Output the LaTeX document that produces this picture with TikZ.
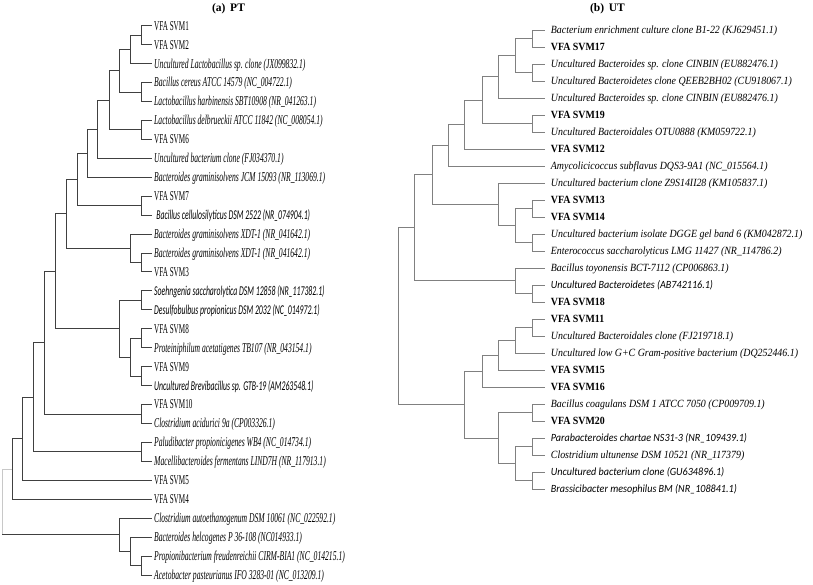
\documentclass[tikz,border=0pt]{standalone}
\usepackage{fontspec}
\setmainfont{Liberation Serif}
\newfontfamily\serAi[FakeStretch=0.565]{Liberation Serif}
\newfontfamily\serAr[FakeStretch=0.53]{Liberation Serif}
\newfontfamily\sanA[FakeStretch=0.575]{Carlito}
\newfontfamily\serB[FakeStretch=0.9]{Liberation Serif}
\newfontfamily\sanB[FakeStretch=0.92]{Carlito}
\definecolor{lineAcol}{HTML}{404040}
\definecolor{lineBcol}{HTML}{808080}
\definecolor{rootcol}{HTML}{C8C8C8}
\tikzset{
  lineA/.style={draw=lineAcol, line width=0.9pt},
  lineB/.style={draw=lineBcol, line width=0.9pt},
  rootline/.style={draw=rootcol, line width=0.9pt},
  leafbase/.style={anchor=west, inner sep=0pt, text depth=0pt},
  leafAi/.style={leafbase, text height=8.9pt, font={\serAi\itshape\fontsize{13.5}{15}\selectfont}},
  leafAr/.style={leafbase, text height=8.9pt, font={\serAr\fontsize{13.5}{15}\selectfont}},
  leafAs/.style={leafbase, text height=8.9pt, font={\sanA\itshape\fontsize{13.5}{15}\selectfont}},
  leafBi/.style={leafbase, text height=7.3pt, font={\serB\itshape\fontsize{11}{13}\selectfont}},
  leafBb/.style={leafbase, text height=7.3pt, font={\serB\bfseries\fontsize{11}{13}\selectfont}},
  leafBs/.style={leafbase, text height=7.3pt, font={\sanB\itshape\fontsize{11}{13}\selectfont}},
  paneltitle/.style={inner sep=0pt, font={\bfseries\fontsize{11.5}{13}\selectfont}}
}
\newcommand\lfA[4]{\coordinate (tA#1) at (151.7,#2);\node[#3] (lA#1) at (154,#2) {#4};}
\newcommand\lfB[4]{\coordinate (tB#1) at (545,#2);\node[#3] (lB#1) at (550.7,#2) {#4};}
\begin{document}
\begin{tikzpicture}[x=1pt,y=-1pt]
\fill[white] (0,0) rectangle (813,585);
\useasboundingbox (0,0) rectangle (813,585);
% titles
\node[paneltitle] (titleA) at (228.5,8.5) {(a)\, PT};
\node[paneltitle] (titleB) at (607.5,8.5) {(b)\, UT};
% ---------------- tree (a) leaves
\lfA{0}{25.70}{leafAr}{VFA SVM1}
\lfA{1}{44.64}{leafAr}{VFA SVM2}
\lfA{2}{63.58}{leafAi}{Uncultured Lactobacillus sp. clone (JX099832.1)}
\lfA{3}{82.52}{leafAi}{Bacillus cereus ATCC 14579 (NC\_004722.1)}
\lfA{4}{101.46}{leafAi}{Lactobacillus harbinensis SBT10908 (NR\_041263.1)}
\lfA{5}{120.40}{leafAi}{Lactobacillus delbrueckii ATCC 11842 (NC\_008054.1)}
\lfA{6}{139.34}{leafAr}{VFA SVM6}
\lfA{7}{158.28}{leafAi}{Uncultured bacterium clone (FJ034370.1)}
\lfA{8}{177.22}{leafAi}{Bacteroides graminisolvens JCM 15093 (NR\_113069.1)}
\lfA{9}{196.16}{leafAr}{VFA SVM7}
\lfA{10}{215.10}{leafAs}{\,Bacillus cellulosilyticus DSM 2522 (NR\_074904.1)}
\lfA{11}{234.04}{leafAi}{Bacteroides graminisolvens XDT-1 (NR\_041642.1)}
\lfA{12}{252.98}{leafAi}{Bacteroides graminisolvens XDT-1 (NR\_041642.1)}
\lfA{13}{271.92}{leafAr}{VFA SVM3}
\lfA{14}{290.86}{leafAs}{Soehngenia saccharolytica DSM 12858 (NR\_117382.1)}
\lfA{15}{309.80}{leafAs}{Desulfobulbus propionicus DSM 2032 (NC\_014972.1)}
\lfA{16}{328.74}{leafAr}{VFA SVM8}
\lfA{17}{347.68}{leafAi}{Proteiniphilum acetatigenes TB107 (NR\_043154.1)}
\lfA{18}{366.62}{leafAr}{VFA SVM9}
\lfA{19}{385.56}{leafAs}{Uncultured Brevibacillus sp. GTB-19 (AM263548.1)}
\lfA{20}{404.50}{leafAr}{VFA SVM10}
\lfA{21}{423.44}{leafAi}{Clostridium acidurici 9a (CP003326.1)}
\lfA{22}{442.38}{leafAi}{Paludibacter propionicigenes WB4 (NC\_014734.1)}
\lfA{23}{461.32}{leafAi}{Macellibacteroides fermentans LIND7H (NR\_117913.1)}
\lfA{24}{480.26}{leafAr}{VFA SVM5}
\lfA{25}{499.20}{leafAr}{VFA SVM4}
\lfA{26}{518.14}{leafAi}{Clostridium autoethanogenum DSM 10061 (NC\_022592.1)}
\lfA{27}{537.08}{leafAi}{Bacteroides helcogenes P 36-108 (NC014933.1)}
\lfA{28}{556.02}{leafAi}{Propionibacterium freudenreichii CIRM-BIA1 (NC\_014215.1)}
\lfA{29}{574.96}{leafAi}{Acetobacter pasteurianus IFO 3283-01 (NC\_013209.1)}
% ---------------- tree (a) internal nodes
\coordinate (a1) at (141.7,35.17);
\coordinate (a2) at (130,49.38);
\coordinate (a3) at (141.7,91.99);
\coordinate (a4) at (119,70.68);
\coordinate (a5) at (141.7,129.87);
\coordinate (a6) at (109,100.28);
\coordinate (a7) at (97.3,129.28);
\coordinate (a8) at (87.3,153.25);
\coordinate (a9) at (141.7,205.63);
\coordinate (a10) at (77.3,179.44);
\coordinate (a11) at (141.7,262.45);
\coordinate (a12) at (130,248.25);
\coordinate (a13) at (66.7,213.84);
\coordinate (a14) at (141.7,300.33);
\coordinate (a15) at (141.7,338.21);
\coordinate (a16) at (141.7,376.09);
\coordinate (a17) at (130,357.15);
\coordinate (a18) at (119,328.74);
\coordinate (a19) at (55,271.29);
\coordinate (a20) at (141.7,413.97);
\coordinate (a21) at (44.3,342.63);
\coordinate (a22) at (141.7,451.85);
\coordinate (a23) at (33.3,397.24);
\coordinate (a24) at (22.3,438.75);
\coordinate (a25) at (12.3,468.98);
\coordinate (a26) at (141.7,565.49);
\coordinate (a27) at (130,551.29);
\coordinate (a28) at (119,534.71);
\coordinate (rA) at (2,501.85);
\foreach \p/\c in {a1/tA0,a1/tA1,a2/a1,a2/tA2,a3/tA3,a3/tA4,a4/a2,a4/a3,a5/tA5,a5/tA6,
  a6/a4,a6/a5,a7/a6,a7/tA7,a8/a7,a8/tA8,a9/tA9,a9/tA10,a10/a8,a10/a9,a11/tA12,a11/tA13,
  a12/tA11,a12/a11,a13/a10,a13/a12,a14/tA14,a14/tA15,a15/tA16,a15/tA17,a16/tA18,a16/tA19,
  a17/a15,a17/a16,a18/a14,a18/a17,a19/a13,a19/a18,a20/tA20,a20/tA21,a21/a19,a21/a20,
  a22/tA22,a22/tA23,a23/a21,a23/a22,a24/a23,a24/tA24,a25/a24,a25/tA25,a26/tA28,a26/tA29,
  a27/tA27,a27/a26,a28/tA26,a28/a27}
  \draw[lineA] (\p) |- (\c);
\coordinate (rAlow) at (rA |- a28);
\draw[rootline] (rA) |- (a25);
\draw[rootline] (rA) -- (rAlow);
\draw[lineA] (rAlow) -- (a28);
% ---------------- tree (b) leaves
\lfB{0}{30}{leafBi}{Bacterium enrichment culture clone B1-22 (KJ629451.1)}
\lfB{1}{47}{leafBb}{VFA SVM17}
\lfB{2}{64}{leafBi}{Uncultured Bacteroides sp. clone CINBIN (EU882476.1)}
\lfB{3}{81}{leafBi}{Uncultured Bacteroidetes clone QEEB2BH02 (CU918067.1)}
\lfB{4}{98}{leafBi}{Uncultured Bacteroides sp. clone CINBIN (EU882476.1)}
\lfB{5}{115}{leafBb}{VFA SVM19}
\lfB{6}{132}{leafBi}{Uncultured Bacteroidales OTU0888 (KM059722.1)}
\lfB{7}{149}{leafBb}{VFA SVM12}
\lfB{8}{166}{leafBi}{Amycolicicoccus subflavus DQS3-9A1 (NC\_015564.1)}
\lfB{9}{183}{leafBi}{Uncultured bacterium clone Z9S14II28 (KM105837.1)}
\lfB{10}{200}{leafBb}{VFA SVM13}
\lfB{11}{217}{leafBb}{VFA SVM14}
\lfB{12}{234}{leafBi}{Uncultured bacterium isolate DGGE gel band 6 (KM042872.1)}
\lfB{13}{251}{leafBi}{Enterococcus saccharolyticus LMG 11427 (NR\_114786.2)}
\lfB{14}{268}{leafBi}{Bacillus toyonensis BCT-7112 (CP006863.1)}
\lfB{15}{285}{leafBs}{Uncultured Bacteroidetes (AB742116.1)}
\lfB{16}{302}{leafBb}{VFA SVM18}
\lfB{17}{319}{leafBb}{VFA SVM11}
\lfB{18}{336}{leafBi}{Uncultured Bacteroidales clone (FJ219718.1)}
\lfB{19}{353}{leafBi}{Uncultured low G+C Gram-positive bacterium (DQ252446.1)}
\lfB{20}{370}{leafBb}{VFA SVM15}
\lfB{21}{387}{leafBb}{VFA SVM16}
\lfB{22}{404}{leafBi}{Bacillus coagulans DSM 1 ATCC 7050 (CP009709.1)}
\lfB{23}{421}{leafBb}{VFA SVM20}
\lfB{24}{438}{leafBs}{Parabacteroides chartae NS31-3 (NR\_109439.1)}
\lfB{25}{455}{leafBi}{Clostridium ultunense DSM 10521 (NR\_117379)}
\lfB{26}{472}{leafBs}{Uncultured bacterium clone (GU634896.1)}
\lfB{27}{489}{leafBs}{Brassicibacter mesophilus BM (NR\_108841.1)}
% ---------------- tree (b) internal nodes
\coordinate (b1) at (532,38.5);
\coordinate (b2) at (532,72.5);
\coordinate (b3) at (515.3,55.5);
\coordinate (b4) at (498.7,76.75);
\coordinate (b5) at (532,123.5);
\coordinate (b6) at (482,100.13);
\coordinate (b7) at (464.7,124.56);
\coordinate (b8) at (448.7,145.28);
\coordinate (b9) at (532,208.5);
\coordinate (b10) at (532,242.5);
\coordinate (b11) at (515.3,225.5);
\coordinate (b12) at (498.7,204.25);
\coordinate (b13) at (432,174.77);
\coordinate (b14) at (532,293.5);
\coordinate (b15) at (515.3,280.75);
\coordinate (b16) at (414.7,227.76);
\coordinate (d1) at (532,327.5);
\coordinate (d2) at (515.3,340.25);
\coordinate (d3) at (498.7,355.13);
\coordinate (d4) at (482,371.06);
\coordinate (e1) at (532,412.5);
\coordinate (e2) at (532,446.5);
\coordinate (e3) at (532,480.5);
\coordinate (e4) at (515.3,463.5);
\coordinate (e5) at (498.7,438);
\coordinate (d5) at (464.7,404.53);
\coordinate (rB) at (398,316.15);
\foreach \p/\c in {b1/tB0,b1/tB1,b2/tB2,b2/tB3,b3/b1,b3/b2,b4/b3,b4/tB4,b5/tB5,b5/tB6,
  b6/b4,b6/b5,b7/b6,b7/tB7,b8/b7,b8/tB8,b9/tB10,b9/tB11,b10/tB12,b10/tB13,b11/b9,b11/b10,
  b12/tB9,b12/b11,b13/b8,b13/b12,b14/tB15,b14/tB16,b15/tB14,b15/b14,b16/b13,b16/b15,
  d1/tB17,d1/tB18,d2/d1,d2/tB19,d3/d2,d3/tB20,d4/d3,d4/tB21,e1/tB22,e1/tB23,e2/tB24,
  e2/tB25,e3/tB26,e3/tB27,e4/e2,e4/e3,e5/e1,e5/e4,d5/d4,d5/e5,rB/b16,rB/d5}
  \draw[lineB] (\p) |- (\c);
\end{tikzpicture}
\end{document}
